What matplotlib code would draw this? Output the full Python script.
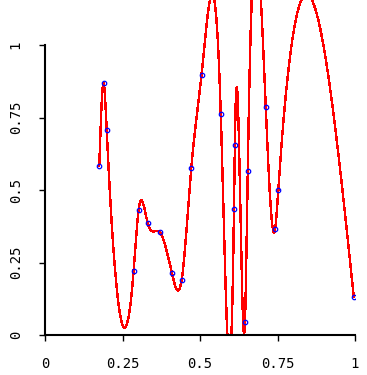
import numpy as np
import matplotlib
matplotlib.use("Agg")
import matplotlib.pyplot as plt

# sample points
x_pts = [0.175, 0.189, 0.199, 0.286, 0.302, 0.331, 0.370, 0.409, 0.441, 0.472,
         0.505, 0.567, 0.6096, 0.6124, 0.645, 0.654, 0.712, 0.7425, 0.7525, 0.996]
y_pts = [0.583, 0.869, 0.707, 0.222, 0.432, 0.387, 0.355, 0.215, 0.191, 0.577,
         0.898, 0.763, 0.434, 0.656, 0.046, 0.567, 0.787, 0.367, 0.501, 0.132]
tick_vals = [0, 0.25, 0.5, 0.75, 1]
tick_labels = ["0", "0.25", "0.5", "0.75", "1"]


def natural_spline(xs, ys, xq):
    # interpolating cubic spline, second derivative zero at both ends
    xs = np.asarray(xs, float)
    ys = np.asarray(ys, float)
    n = len(xs)
    h = np.diff(xs)
    A = np.zeros((n, n))
    r = np.zeros(n)
    A[0, 0] = 1.0
    A[-1, -1] = 1.0
    for i in range(1, n - 1):
        A[i, i - 1] = h[i - 1]
        A[i, i] = 2 * (h[i - 1] + h[i])
        A[i, i + 1] = h[i]
        r[i] = 6 * ((ys[i + 1] - ys[i]) / h[i] - (ys[i] - ys[i - 1]) / h[i - 1])
    M = np.linalg.solve(A, r)
    idx = np.clip(np.searchsorted(xs, xq) - 1, 0, n - 2)
    x0, x1 = xs[idx], xs[idx + 1]
    hh = x1 - x0
    a = (x1 - xq) / hh
    b = (xq - x0) / hh
    return (a * ys[idx] + b * ys[idx + 1]
            + ((a ** 3 - a) * M[idx] + (b ** 3 - b) * M[idx + 1]) * hh ** 2 / 6)


xs = np.linspace(x_pts[0], x_pts[-1], 3000)
ys = natural_spline(x_pts, y_pts, xs)

plt.rcParams['font.family'] = ['DejaVu Sans Mono']

fig = plt.figure(figsize=(3.67, 3.75), dpi=100)
ax = fig.add_axes([45 / 367, 40 / 375, 310 / 367, 335 / 375])

ax.plot(xs, ys, color="red", lw=1.0, antialiased=False)
ax.plot(x_pts, y_pts, "o", ms=3.2, mfc="none", mec="blue", mew=0.9)

ax.set_xlim(0, 1)
ax.set_ylim(0, 335 / 290)

for s in ["top", "right"]:
    ax.spines[s].set_visible(False)
ax.spines["left"].set_bounds(0, 1)
ax.spines["bottom"].set_bounds(0, 1)
ax.spines["left"].set_linewidth(1.5)
ax.spines["bottom"].set_linewidth(1.5)

ax.set_xticks(tick_vals)
ax.set_xticklabels(tick_labels)
ax.set_yticks(tick_vals)
ax.set_yticklabels(tick_labels, rotation=90, va="center")
ax.tick_params(length=4, width=1, pad=12, labelsize=10)

fig.savefig("out.png", dpi=100)
